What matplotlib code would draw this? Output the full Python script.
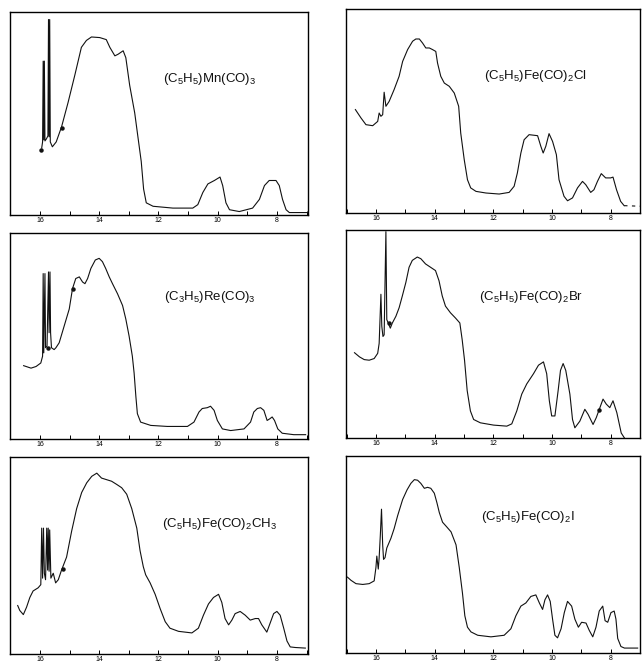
import matplotlib.pyplot as plt

plt.rcParams['font.family'] = ['Liberation Sans', 'DejaVu Sans']
plt.rcParams['mathtext.fontset'] = 'custom'
plt.rcParams['mathtext.rm'] = 'Liberation Sans'
plt.rcParams['mathtext.it'] = 'Liberation Sans:italic'

# -------------------- DATA (ionization energy in eV, relative counts 0-100) --------------------
mn_ev = [15.94, 15.91, 15.89, 15.87, 15.85, 15.83, 15.78, 15.73, 15.71, 15.69, 15.67, 15.65,
         15.58, 15.45, 15.27, 15.05, 14.82, 14.60, 14.43, 14.26, 13.98, 13.76, 13.64, 13.47,
         13.36, 13.19, 13.10, 12.97, 12.80, 12.69, 12.58, 12.50, 12.41, 12.18, 11.51, 10.84,
         10.67, 10.50, 10.33, 10.11, 9.92, 9.83, 9.72, 9.60, 9.27, 8.82, 8.59, 8.42, 8.26,
         8.03, 7.92, 7.81, 7.69, 7.58, 6.95]
mn_int = [33.0, 36.0, 75.8, 37.0, 75.8, 36.5, 37.5, 39.0, 96.3, 38.5, 96.3, 36.0,
          33.6, 36.0, 43.4, 55.4, 69.0, 82.6, 86.0, 87.7, 87.4, 86.4, 82.6, 78.4,
          79.2, 80.9, 77.5, 63.9, 50.3, 38.3, 26.4, 12.8, 6.0, 4.3, 3.4, 3.4,
          5.1, 11.1, 15.3, 17.0, 18.7, 14.5, 6.0, 2.6, 1.7, 3.4, 7.7, 14.5, 17.0,
          17.0, 14.5, 7.7, 2.6, 1.2, 1.2]

cl_ev = [16.70, 16.51, 16.34, 16.11, 15.94, 15.89, 15.83, 15.77, 15.72, 15.66, 15.55, 15.38,
         15.21, 15.09, 14.92, 14.75, 14.64, 14.52, 14.41, 14.30, 14.18, 14.07, 13.96, 13.90,
         13.79, 13.67, 13.50, 13.33, 13.18, 13.11, 12.99, 12.88, 12.77, 12.59, 12.25, 11.80,
         11.46, 11.29, 11.18, 11.06, 10.95, 10.78, 10.49, 10.38, 10.30, 10.21, 10.10, 9.98,
         9.85, 9.76, 9.59, 9.47, 9.30, 9.13, 8.96, 8.85, 8.68, 8.57, 8.45, 8.32, 8.17, 8.00,
         7.92, 7.80, 7.66, 7.54]
cl_int = [50.7, 46.6, 43.3, 42.8, 44.9, 49.0, 47.4, 48.2, 59.2, 52.3, 54.7, 60.5,
          67.0, 74.3, 80.1, 84.2, 85.3, 85.3, 83.3, 80.9, 80.9, 80.1, 79.2, 73.5,
          67.0, 63.7, 62.1, 58.8, 52.3, 39.2, 26.1, 16.3, 12.3, 10.6, 9.8, 9.3,
          10.1, 13.1, 19.6, 29.4, 35.9, 38.4, 37.9, 32.7, 29.4, 32.7, 38.9, 35.1,
          28.6, 16.3, 8.2, 6.0, 7.4, 12.3, 15.5, 13.9, 10.1, 11.4, 15.5, 19.3, 17.2, 17.2,
          17.6, 11.4, 5.7, 3.6]
cl_tail_ev = [7.54, 6.96]
cl_tail_int = [3.6, 3.3]

re_ev = [16.55, 16.30, 16.13, 15.97, 15.91, 15.89, 15.87, 15.83, 15.81, 15.76, 15.71, 15.69,
         15.66, 15.64, 15.61, 15.52, 15.46, 15.35, 15.18, 15.01, 14.90, 14.79, 14.67, 14.56,
         14.48, 14.39, 14.28, 14.13, 14.00, 13.89, 13.78, 13.66, 13.55, 13.38, 13.21, 13.10,
         12.99, 12.88, 12.82, 12.76, 12.71, 12.60, 12.26, 11.70, 11.02, 10.80, 10.63, 10.52,
         10.35, 10.24, 10.12, 10.01, 9.84, 9.56, 9.11, 8.89, 8.78, 8.66, 8.55, 8.44, 8.33,
         8.24, 8.16, 8.08, 7.97, 7.82, 7.43, 7.03]
re_int = [35.6, 34.4, 35.2, 36.9, 40.2, 80.3, 41.8, 80.3, 44.3, 45.1, 81.1, 51.6,
          81.1, 51.6, 44.3, 43.4, 44.3, 46.7, 54.9, 63.1, 73.0, 77.9, 78.7, 76.2,
          75.4, 77.9, 82.8, 86.9, 87.7, 86.1, 82.8, 78.7, 75.4, 70.5, 64.8, 58.2,
          50.0, 40.2, 32.0, 20.5, 12.3, 8.2, 6.6, 6.1, 6.1, 8.2, 13.1, 14.8,
          15.2, 15.9, 13.9, 9.0, 4.9, 4.1, 4.9, 8.2, 13.1, 14.8, 15.2, 13.9, 9.0,
          9.8, 10.7, 9.0, 4.9, 2.8, 2.1, 2.1]

br_ev = [16.73, 16.56, 16.40, 16.23, 16.06, 15.94, 15.89, 15.83, 15.80, 15.76, 15.72, 15.66,
         15.63, 15.58, 15.51, 15.44, 15.32, 15.21, 15.10, 14.98, 14.87, 14.76, 14.59, 14.47,
         14.31, 14.14, 13.97, 13.85, 13.74, 13.63, 13.46, 13.29, 13.14, 13.06, 12.98, 12.89,
         12.78, 12.67, 12.44, 11.99, 11.54, 11.37, 11.20, 11.03, 10.86, 10.63, 10.46, 10.29,
         10.18, 10.09, 10.01, 9.90, 9.79, 9.71, 9.62, 9.53, 9.39, 9.30, 9.22, 9.05, 8.88,
         8.77, 8.60, 8.49, 8.40, 8.26, 8.15, 8.03, 7.92, 7.79, 7.64, 7.53]
br_int = [41.0, 39.0, 37.7, 37.4, 38.2, 40.7, 45.5, 69.1, 53.7, 48.8, 49.6, 99.2,
          56.9, 55.3, 52.8, 55.3, 58.5, 62.6, 68.3, 74.8, 82.1, 85.4, 87.0, 86.2,
          83.7, 82.1, 80.5, 75.6, 68.3, 63.4, 60.2, 57.7, 55.3, 47.2, 37.4, 22.8,
          13.0, 8.9, 7.3, 6.2, 5.7, 6.8, 13.0, 21.1, 26.0, 30.9, 35.0, 36.6,
          30.9, 17.9, 10.6, 10.6, 22.8, 32.5, 35.8, 32.5, 21.1, 8.9, 4.9, 8.1, 13.8,
          11.4, 6.5, 9.8, 13.3, 18.7, 16.3, 14.6, 17.9, 12.2, 2.4, 0.0]

ch3_ev = [16.75, 16.68, 16.56, 16.45, 16.34, 16.23, 16.06, 15.97, 15.94, 15.91, 15.88, 15.85,
          15.81, 15.77, 15.74, 15.72, 15.69, 15.67, 15.63, 15.55, 15.47, 15.38, 15.27, 15.10,
          14.93, 14.76, 14.59, 14.42, 14.25, 14.08, 13.92, 13.75, 13.58, 13.41, 13.24, 13.07,
          12.90, 12.73, 12.62, 12.51, 12.43, 12.28, 12.11, 11.94, 11.77, 11.61, 11.32, 10.87,
          10.65, 10.48, 10.31, 10.14, 9.97, 9.86, 9.75, 9.63, 9.52, 9.41, 9.24, 9.07, 8.90,
          8.73, 8.62, 8.51, 8.34, 8.23, 8.11, 8.00, 7.89, 7.77, 7.66, 7.55, 7.38, 7.04]
ch3_int = [24.6, 22.1, 20.0, 23.8, 28.7, 32.0, 33.6, 35.2, 63.9, 38.5, 63.9, 41.0,
           37.7, 63.9, 42.6, 63.9, 42.0, 63.0, 38.5, 41.0, 36.1, 37.7, 42.6, 49.2,
           62.3, 73.8, 82.0, 86.9, 90.2, 91.8, 89.3, 88.5, 87.7, 86.1, 84.4, 81.1,
           73.8, 63.9, 52.5, 44.3, 40.2, 36.1, 30.3, 23.0, 16.4, 13.1, 11.5, 10.7,
           13.1, 19.7, 25.4, 28.7, 30.3, 26.2, 18.0, 14.8, 17.2, 20.5, 21.6, 19.7, 17.2,
           18.0, 18.0, 14.8, 11.1, 15.6, 20.5, 21.6, 19.7, 13.1, 6.6, 3.6, 3.3, 3.0]

i_ev = [16.97, 16.85, 16.68, 16.45, 16.23, 16.06, 16.00, 15.97, 15.92, 15.89, 15.85, 15.81,
        15.77, 15.74, 15.69, 15.63, 15.49, 15.38, 15.26, 15.09, 14.94, 14.81, 14.69, 14.58,
        14.47, 14.35, 14.24, 14.13, 14.01, 13.92, 13.84, 13.73, 13.58, 13.44, 13.27, 13.16,
        13.05, 12.97, 12.88, 12.76, 12.53, 12.08, 11.63, 11.40, 11.23, 11.06, 10.89, 10.72,
        10.55, 10.43, 10.32, 10.24, 10.15, 10.06, 9.98, 9.90, 9.81, 9.69, 9.58, 9.47, 9.33,
        9.22, 9.10, 8.99, 8.84, 8.73, 8.61, 8.50, 8.39, 8.27, 8.19, 8.10, 7.99, 7.88, 7.82,
        7.76, 7.65, 7.53, 7.31, 7.08]
i_int = [38.5, 36.9, 35.2, 34.8, 35.2, 36.6, 43.4, 49.2, 42.6, 48.4, 59.8, 73.0,
         54.9, 47.5, 48.4, 53.3, 58.2, 63.1, 69.7, 77.9, 82.8, 86.1, 88.0, 87.7,
         86.1, 83.6, 84.1, 83.6, 81.1, 76.2, 71.3, 66.4, 63.9, 61.5, 54.9, 43.4,
         30.3, 18.9, 13.1, 10.7, 9.0, 8.2, 9.0, 12.3, 18.9, 23.8, 25.4, 28.7,
         29.5, 25.4, 22.1, 27.0, 29.5, 26.2, 17.2, 9.0, 7.7, 12.3, 20.5, 26.2, 23.8,
         17.2, 13.1, 15.6, 15.2, 11.5, 8.2, 13.1, 21.3, 23.8, 16.4, 15.6, 20.5, 21.3,
         17.2, 7.4, 3.3, 2.5, 2.5, 2.5]

# small calibration dots seen on the traces
mn_dots = ([15.98, 15.27], [32.0, 43.1])
re_dots = ([14.90, 15.74], [73.0, 44.3])
br_dots = ([8.40, 15.55], [13.3, 55.3])
ch3_dots = ([15.23], [43.4])

labels = [r'(C$_5$H$_5$)Mn(CO)$_3$', r'(C$_5$H$_5$)Fe(CO)$_2$Cl',
          r'(C$_3$H$_5$)Re(CO)$_3$', r'(C$_5$H$_5$)Fe(CO)$_2$Br',
          r'(C$_5$H$_5$)Fe(CO)$_2$CH$_3$', r'(C$_5$H$_5$)Fe(CO)$_2$I']
label_pos = [(10.28, 67), (10.57, 67), (10.26, 69), (10.72, 68), (9.95, 66), (10.83, 69)]
tick_vals = [16, 14, 12, 10, 8]

# -------------------- LAYOUT (pixels) --------------------
W, H = 642, 664
left_x, right_x = (10, 308), (346, 640)
left_rows = [(12, 215), (233, 439), (457, 654)]
right_rows = [(9, 213), (230, 438), (456, 653)]
left_xlim, right_xlim = (17.01, 6.95), (17.02, 7.01)

fig = plt.figure(figsize=(W / 100, H / 100), dpi=100)


def make_ax(xr, yr, xlim):
    ax = fig.add_axes([xr[0] / W, 1 - yr[1] / H, (xr[1] - xr[0]) / W, (yr[1] - yr[0]) / H])
    ax.set_xlim(*xlim)
    ax.set_ylim(0, 100)
    ax.set_yticks([])
    ax.set_xticks(tick_vals)
    ax.set_xticklabels([str(v) for v in tick_vals])
    ax.set_xticks(range(7, 18), minor=True)
    ax.tick_params(axis='x', which='both', direction='in', length=3, width=0.7, labelsize=5, pad=1.2)
    for s in ax.spines.values():
        s.set_linewidth(1.0)
    return ax


panels = [
    (left_x, left_rows[0], left_xlim, mn_ev, mn_int, mn_dots),
    (right_x, right_rows[0], right_xlim, cl_ev, cl_int, None),
    (left_x, left_rows[1], left_xlim, re_ev, re_int, re_dots),
    (right_x, right_rows[1], right_xlim, br_ev, br_int, br_dots),
    (left_x, left_rows[2], left_xlim, ch3_ev, ch3_int, ch3_dots),
    (right_x, right_rows[2], right_xlim, i_ev, i_int, None),
]

for k, (xr, yr, xlim, ev, cnt, dots) in enumerate(panels):
    ax = make_ax(xr, yr, xlim)
    ax.plot(ev, cnt, color='#111111', lw=0.8)
    if dots is not None:
        ax.plot(dots[0], dots[1], 'o', color='#111111', ms=2.2)
    if k == 1:
        ax.plot(cl_tail_ev, cl_tail_int, color='#111111', lw=0.8, ls=(0, (3, 4)))
    ax.text(label_pos[k][0], label_pos[k][1], labels[k], fontsize=9.5,
            ha='center', va='center', color='#111111')

plt.savefig('out.png', dpi=100)
